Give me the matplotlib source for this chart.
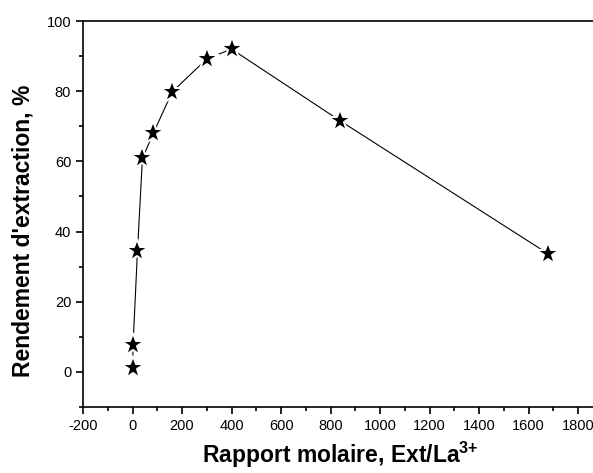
import numpy as np
import matplotlib.pyplot as plt
from matplotlib.ticker import MultipleLocator

plt.rcParams['font.family'] = ['Liberation Sans', 'DejaVu Sans']
plt.rcParams['mathtext.fontset'] = 'custom'
plt.rcParams['mathtext.bf'] = 'Liberation Sans:bold'
plt.rcParams['mathtext.rm'] = 'Liberation Sans'
plt.rcParams['axes.unicode_minus'] = False

# molar ratio Ext/La3+ and extraction yield (%)
ratio = [1, 2, 20, 40, 84, 160, 300, 400, 840, 1680]
yield_pct = [1.1, 7.6, 34.6, 60.9, 68.0, 79.8, 89.2, 92.0, 71.5, 33.6]

fig = plt.figure(figsize=(5.93, 4.73), dpi=100)
ax = fig.add_axes([0.14, 0.1395, 0.86, 0.8161])

ax.plot(ratio, yield_pct, color='black', lw=0.8, zorder=2)
# white edge leaves a small gap in the line round each star
ax.plot(ratio, yield_pct, ls='none', marker='*', ms=17.5, mfc='black',
        mec='white', mew=1.5, zorder=3)

ax.set_xlim(-200, 1860)
ax.set_ylim(-10, 100)
ax.xaxis.set_major_locator(MultipleLocator(200))
ax.xaxis.set_minor_locator(MultipleLocator(100))
ax.yaxis.set_major_locator(MultipleLocator(20))
ax.yaxis.set_minor_locator(MultipleLocator(10))
ax.tick_params(which='both', direction='out', labelsize=10.5, width=1.2)
ax.tick_params(which='major', length=5)
ax.tick_params(which='minor', length=3)
ax.spines['right'].set_visible(False)
for s in ['left', 'bottom', 'top']:
    ax.spines[s].set_linewidth(1.2)

ax.set_xlabel(r'Rapport molaire, Ext/La$^{\mathbf{3{+}}}$', fontsize=16.5,
              fontweight='bold', va='center')
ax.set_ylabel("Rendement d'extraction, %", fontsize=16.5, fontweight='bold',
              va='center')
ax.xaxis.set_label_coords(0.505, -0.124)
ax.yaxis.set_label_coords(-0.118, 0.456)

fig.savefig('out.png', dpi=100)
